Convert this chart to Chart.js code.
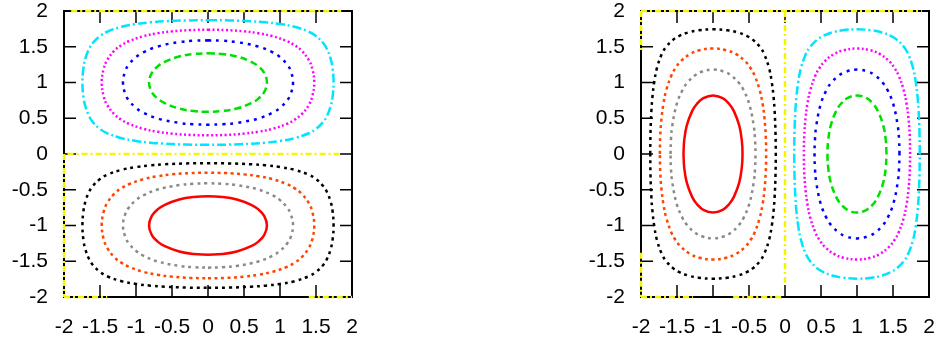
<!DOCTYPE html>
<html>
<head>
<meta charset="utf-8">
<script src="https://cdn.jsdelivr.net/npm/chart.js@4.4.0/dist/chart.umd.min.js"></script>
<style>
html, body { margin: 0; padding: 0; background: #fff; }
.panel { position: absolute; top: 0; width: 360px; height: 345px; }
</style>
</head>
<body>
<div class="panel" style="left:0"><canvas id="leftChart"></canvas></div>
<div class="panel" style="left:580px"><canvas id="rightChart"></canvas></div>
<script>
const tickValues = [-2, -1.5, -1, -0.5, 0, 0.5, 1, 1.5, 2];

// left panel: contour lines, [x, y]
const leftMinus08 = [[0,-1.41],[0.2,-1.399],[0.4,-1.364],[0.6,-1.29],[0.7,-1.225],[0.78,-1.134],[0.819,-1],[0.78,-0.866],[0.7,-0.775],[0.6,-0.71],[0.4,-0.636],[0.2,-0.601],[0,-0.59],[-0.2,-0.601],[-0.4,-0.636],[-0.6,-0.71],[-0.7,-0.775],[-0.78,-0.866],[-0.819,-1],[-0.78,-1.134],[-0.7,-1.225],[-0.6,-1.29],[-0.4,-1.364],[-0.2,-1.399],[0,-1.41]];
const leftMinus06 = [[0,-1.59],[0.2,-1.584],[0.4,-1.565],[0.7,-1.503],[0.9,-1.421],[1,-1.355],[1.1,-1.25],[1.15,-1.158],[1.181,-1],[1.15,-0.842],[1.1,-0.75],[1,-0.645],[0.9,-0.579],[0.7,-0.497],[0.4,-0.435],[0.2,-0.416],[0,-0.41],[-0.2,-0.416],[-0.4,-0.435],[-0.7,-0.497],[-0.9,-0.579],[-1,-0.645],[-1.1,-0.75],[-1.15,-0.842],[-1.181,-1],[-1.15,-1.158],[-1.1,-1.25],[-1,-1.355],[-0.9,-1.421],[-0.7,-1.503],[-0.4,-1.565],[-0.2,-1.584],[0,-1.59]];
const leftMinus04 = [[0,-1.738],[0.25,-1.733],[0.5,-1.715],[0.7,-1.689],[0.9,-1.647],[1.1,-1.577],[1.2,-1.523],[1.3,-1.445],[1.4,-1.314],[1.45,-1.188],[1.476,-1],[1.45,-0.812],[1.4,-0.686],[1.3,-0.555],[1.2,-0.477],[1.1,-0.423],[0.9,-0.353],[0.7,-0.311],[0.5,-0.285],[0.25,-0.267],[0,-0.262],[-0.25,-0.267],[-0.5,-0.285],[-0.7,-0.311],[-0.9,-0.353],[-1.1,-0.423],[-1.2,-0.477],[-1.3,-0.555],[-1.4,-0.686],[-1.45,-0.812],[-1.476,-1],[-1.45,-1.188],[-1.4,-1.314],[-1.3,-1.445],[-1.2,-1.523],[-1.1,-1.577],[-0.9,-1.647],[-0.7,-1.689],[-0.5,-1.715],[-0.25,-1.733],[0,-1.738]];
const leftMinus02 = [[0,-1.872],[0.3,-1.868],[0.6,-1.856],[0.8,-1.841],[1,-1.817],[1.2,-1.779],[1.4,-1.71],[1.5,-1.65],[1.6,-1.552],[1.65,-1.473],[1.7,-1.345],[1.73,-1.202],[1.744,-1],[1.73,-0.798],[1.7,-0.655],[1.65,-0.527],[1.6,-0.448],[1.5,-0.35],[1.4,-0.29],[1.2,-0.221],[1,-0.183],[0.8,-0.159],[0.6,-0.144],[0.3,-0.132],[0,-0.128],[-0.3,-0.132],[-0.6,-0.144],[-0.8,-0.159],[-1,-0.183],[-1.2,-0.221],[-1.4,-0.29],[-1.5,-0.35],[-1.6,-0.448],[-1.65,-0.527],[-1.7,-0.655],[-1.73,-0.798],[-1.744,-1],[-1.73,-1.202],[-1.7,-1.345],[-1.65,-1.473],[-1.6,-1.552],[-1.5,-1.65],[-1.4,-1.71],[-1.2,-1.779],[-1,-1.817],[-0.8,-1.841],[-0.6,-1.856],[-0.3,-1.868],[0,-1.872]];
const leftPlus02 = [[0,1.872],[0.3,1.868],[0.6,1.856],[0.8,1.841],[1,1.817],[1.2,1.779],[1.4,1.71],[1.5,1.65],[1.6,1.552],[1.65,1.473],[1.7,1.345],[1.73,1.202],[1.744,1],[1.73,0.798],[1.7,0.655],[1.65,0.527],[1.6,0.448],[1.5,0.35],[1.4,0.29],[1.2,0.221],[1,0.183],[0.8,0.159],[0.6,0.144],[0.3,0.132],[0,0.128],[-0.3,0.132],[-0.6,0.144],[-0.8,0.159],[-1,0.183],[-1.2,0.221],[-1.4,0.29],[-1.5,0.35],[-1.6,0.448],[-1.65,0.527],[-1.7,0.655],[-1.73,0.798],[-1.744,1],[-1.73,1.202],[-1.7,1.345],[-1.65,1.473],[-1.6,1.552],[-1.5,1.65],[-1.4,1.71],[-1.2,1.779],[-1,1.817],[-0.8,1.841],[-0.6,1.856],[-0.3,1.868],[0,1.872]];
const leftPlus04 = [[0,1.738],[0.25,1.733],[0.5,1.715],[0.7,1.689],[0.9,1.647],[1.1,1.577],[1.2,1.523],[1.3,1.445],[1.4,1.314],[1.45,1.188],[1.476,1],[1.45,0.812],[1.4,0.686],[1.3,0.555],[1.2,0.477],[1.1,0.423],[0.9,0.353],[0.7,0.311],[0.5,0.285],[0.25,0.267],[0,0.262],[-0.25,0.267],[-0.5,0.285],[-0.7,0.311],[-0.9,0.353],[-1.1,0.423],[-1.2,0.477],[-1.3,0.555],[-1.4,0.686],[-1.45,0.812],[-1.476,1],[-1.45,1.188],[-1.4,1.314],[-1.3,1.445],[-1.2,1.523],[-1.1,1.577],[-0.9,1.647],[-0.7,1.689],[-0.5,1.715],[-0.25,1.733],[0,1.738]];
const leftPlus06 = [[0,1.59],[0.2,1.584],[0.4,1.565],[0.7,1.503],[0.9,1.421],[1,1.355],[1.1,1.25],[1.15,1.158],[1.181,1],[1.15,0.842],[1.1,0.75],[1,0.645],[0.9,0.579],[0.7,0.497],[0.4,0.435],[0.2,0.416],[0,0.41],[-0.2,0.416],[-0.4,0.435],[-0.7,0.497],[-0.9,0.579],[-1,0.645],[-1.1,0.75],[-1.15,0.842],[-1.181,1],[-1.15,1.158],[-1.1,1.25],[-1,1.355],[-0.9,1.421],[-0.7,1.503],[-0.4,1.565],[-0.2,1.584],[0,1.59]];
const leftPlus08 = [[0,1.41],[0.2,1.399],[0.4,1.364],[0.6,1.29],[0.7,1.225],[0.78,1.134],[0.819,1],[0.78,0.866],[0.7,0.775],[0.6,0.71],[0.4,0.636],[0.2,0.601],[0,0.59],[-0.2,0.601],[-0.4,0.636],[-0.6,0.71],[-0.7,0.775],[-0.78,0.866],[-0.819,1],[-0.78,1.134],[-0.7,1.225],[-0.6,1.29],[-0.4,1.364],[-0.2,1.399],[0,1.41]];
const leftZero = [
    [[-1.95,0],[1.82,0]],
    [[-2,0],[-2,-2]],
    [[-2,-2],[-1.4,-2]],
    [[1.4,-2],[2,-2]],
    [[-1.9,2],[1.85,2]]
];

// right panel
const rightMinus08 = [[-1.41,0],[-1.399,0.2],[-1.364,0.4],[-1.29,0.6],[-1.225,0.7],[-1.134,0.78],[-1,0.819],[-0.866,0.78],[-0.775,0.7],[-0.71,0.6],[-0.636,0.4],[-0.601,0.2],[-0.59,0],[-0.601,-0.2],[-0.636,-0.4],[-0.71,-0.6],[-0.775,-0.7],[-0.866,-0.78],[-1,-0.819],[-1.134,-0.78],[-1.225,-0.7],[-1.29,-0.6],[-1.364,-0.4],[-1.399,-0.2],[-1.41,0]];
const rightMinus06 = [[-1.59,0],[-1.584,0.2],[-1.565,0.4],[-1.503,0.7],[-1.421,0.9],[-1.355,1],[-1.25,1.1],[-1.158,1.15],[-1,1.181],[-0.842,1.15],[-0.75,1.1],[-0.645,1],[-0.579,0.9],[-0.497,0.7],[-0.435,0.4],[-0.416,0.2],[-0.41,0],[-0.416,-0.2],[-0.435,-0.4],[-0.497,-0.7],[-0.579,-0.9],[-0.645,-1],[-0.75,-1.1],[-0.842,-1.15],[-1,-1.181],[-1.158,-1.15],[-1.25,-1.1],[-1.355,-1],[-1.421,-0.9],[-1.503,-0.7],[-1.565,-0.4],[-1.584,-0.2],[-1.59,0]];
const rightMinus04 = [[-1.738,0],[-1.733,0.25],[-1.715,0.5],[-1.689,0.7],[-1.647,0.9],[-1.577,1.1],[-1.523,1.2],[-1.445,1.3],[-1.314,1.4],[-1.188,1.45],[-1,1.476],[-0.812,1.45],[-0.686,1.4],[-0.555,1.3],[-0.477,1.2],[-0.423,1.1],[-0.353,0.9],[-0.311,0.7],[-0.285,0.5],[-0.267,0.25],[-0.262,0],[-0.267,-0.25],[-0.285,-0.5],[-0.311,-0.7],[-0.353,-0.9],[-0.423,-1.1],[-0.477,-1.2],[-0.555,-1.3],[-0.686,-1.4],[-0.812,-1.45],[-1,-1.476],[-1.188,-1.45],[-1.314,-1.4],[-1.445,-1.3],[-1.523,-1.2],[-1.577,-1.1],[-1.647,-0.9],[-1.689,-0.7],[-1.715,-0.5],[-1.733,-0.25],[-1.738,0]];
const rightMinus02 = [[-1.872,0],[-1.868,0.3],[-1.856,0.6],[-1.841,0.8],[-1.817,1],[-1.779,1.2],[-1.71,1.4],[-1.65,1.5],[-1.552,1.6],[-1.473,1.65],[-1.345,1.7],[-1.202,1.73],[-1,1.744],[-0.798,1.73],[-0.655,1.7],[-0.527,1.65],[-0.448,1.6],[-0.35,1.5],[-0.29,1.4],[-0.221,1.2],[-0.183,1],[-0.159,0.8],[-0.144,0.6],[-0.132,0.3],[-0.128,0],[-0.132,-0.3],[-0.144,-0.6],[-0.159,-0.8],[-0.183,-1],[-0.221,-1.2],[-0.29,-1.4],[-0.35,-1.5],[-0.448,-1.6],[-0.527,-1.65],[-0.655,-1.7],[-0.798,-1.73],[-1,-1.744],[-1.202,-1.73],[-1.345,-1.7],[-1.473,-1.65],[-1.552,-1.6],[-1.65,-1.5],[-1.71,-1.4],[-1.779,-1.2],[-1.817,-1],[-1.841,-0.8],[-1.856,-0.6],[-1.868,-0.3],[-1.872,0]];
const rightPlus02 = [[1.872,0],[1.868,0.3],[1.856,0.6],[1.841,0.8],[1.817,1],[1.779,1.2],[1.71,1.4],[1.65,1.5],[1.552,1.6],[1.473,1.65],[1.345,1.7],[1.202,1.73],[1,1.744],[0.798,1.73],[0.655,1.7],[0.527,1.65],[0.448,1.6],[0.35,1.5],[0.29,1.4],[0.221,1.2],[0.183,1],[0.159,0.8],[0.144,0.6],[0.132,0.3],[0.128,0],[0.132,-0.3],[0.144,-0.6],[0.159,-0.8],[0.183,-1],[0.221,-1.2],[0.29,-1.4],[0.35,-1.5],[0.448,-1.6],[0.527,-1.65],[0.655,-1.7],[0.798,-1.73],[1,-1.744],[1.202,-1.73],[1.345,-1.7],[1.473,-1.65],[1.552,-1.6],[1.65,-1.5],[1.71,-1.4],[1.779,-1.2],[1.817,-1],[1.841,-0.8],[1.856,-0.6],[1.868,-0.3],[1.872,0]];
const rightPlus04 = [[1.738,0],[1.733,0.25],[1.715,0.5],[1.689,0.7],[1.647,0.9],[1.577,1.1],[1.523,1.2],[1.445,1.3],[1.314,1.4],[1.188,1.45],[1,1.476],[0.812,1.45],[0.686,1.4],[0.555,1.3],[0.477,1.2],[0.423,1.1],[0.353,0.9],[0.311,0.7],[0.285,0.5],[0.267,0.25],[0.262,0],[0.267,-0.25],[0.285,-0.5],[0.311,-0.7],[0.353,-0.9],[0.423,-1.1],[0.477,-1.2],[0.555,-1.3],[0.686,-1.4],[0.812,-1.45],[1,-1.476],[1.188,-1.45],[1.314,-1.4],[1.445,-1.3],[1.523,-1.2],[1.577,-1.1],[1.647,-0.9],[1.689,-0.7],[1.715,-0.5],[1.733,-0.25],[1.738,0]];
const rightPlus06 = [[1.59,0],[1.584,0.2],[1.565,0.4],[1.503,0.7],[1.421,0.9],[1.355,1],[1.25,1.1],[1.158,1.15],[1,1.181],[0.842,1.15],[0.75,1.1],[0.645,1],[0.579,0.9],[0.497,0.7],[0.435,0.4],[0.416,0.2],[0.41,0],[0.416,-0.2],[0.435,-0.4],[0.497,-0.7],[0.579,-0.9],[0.645,-1],[0.75,-1.1],[0.842,-1.15],[1,-1.181],[1.158,-1.15],[1.25,-1.1],[1.355,-1],[1.421,-0.9],[1.503,-0.7],[1.565,-0.4],[1.584,-0.2],[1.59,0]];
const rightPlus08 = [[1.41,0],[1.399,0.2],[1.364,0.4],[1.29,0.6],[1.225,0.7],[1.134,0.78],[1,0.819],[0.866,0.78],[0.775,0.7],[0.71,0.6],[0.636,0.4],[0.601,0.2],[0.59,0],[0.601,-0.2],[0.636,-0.4],[0.71,-0.6],[0.775,-0.7],[0.866,-0.78],[1,-0.819],[1.134,-0.78],[1.225,-0.7],[1.29,-0.6],[1.364,-0.4],[1.399,-0.2],[1.41,0]];
const rightZero = [
    [[0,2],[0,-1.8]],
    [[-2,2],[-2,1.45]],
    [[-2,-1.38],[-2,-2]],
    [[-2,-2],[-1.28,-2]],
    [[-0.72,-2],[-0.04,-2]],
    [[-2,2],[1.9,2]]
];

// gnuplot-ish line types, in the same order as the contour lists below
const lineStyles = [
    { color: '#ff0000', dash: [] },          // -0.8
    { color: '#8a8a8a', dash: [3, 4] },      // -0.6
    { color: '#ff4500', dash: [3, 3.5] },    // -0.4
    { color: '#000000', dash: [3, 4] },      // -0.2
    { color: '#00e5ff', dash: [9, 3, 2, 3] },// 0.2
    { color: '#ff00ff', dash: [2, 2.5] },    // 0.4
    { color: '#0000ff', dash: [3, 5] },      // 0.6
    { color: '#00e000', dash: [7, 4] }       // 0.8
];
const zeroStyle = { color: '#f5f500', dash: [6, 3, 2, 3] };

const tickFont = { family: "'Liberation Sans', Arial, sans-serif", size: 21 };

const gnuplotFrame = {
    id: 'gnuplotFrame',
    beforeDatasetsDraw(chart) {
        const { ctx, chartArea: a, scales: { x, y } } = chart;
        ctx.save();
        ctx.strokeStyle = '#000';
        ctx.lineWidth = 1.5;
        ctx.beginPath();
        tickValues.forEach(v => {
            const px = x.getPixelForValue(v);
            ctx.moveTo(px, a.bottom); ctx.lineTo(px, a.bottom - 12);
            ctx.moveTo(px, a.top); ctx.lineTo(px, a.top + 12);
            const py = y.getPixelForValue(v);
            ctx.moveTo(a.left, py); ctx.lineTo(a.left + 12, py);
            ctx.moveTo(a.right, py); ctx.lineTo(a.right - 12, py);
        });
        ctx.stroke();
        ctx.lineWidth = 2;
        ctx.strokeRect(a.left, a.top, a.right - a.left, a.bottom - a.top);
        ctx.restore();
    }
};

function contourSet(lines, style, tension) {
    return {
        data: lines.map(([x, y]) => ({ x, y })),
        showLine: true,
        borderColor: style.color,
        borderDash: style.dash,
        borderWidth: 2.5,
        pointRadius: 0,
        tension: tension,
        clip: false
    };
}

function makeChart(id, contours, zeroLines, axisWidth, padRight) {
    const datasets = contours.map((c, i) => contourSet(c, lineStyles[i], 0.4));
    zeroLines.forEach(seg => datasets.push(contourSet(seg, zeroStyle, 0)));
    new Chart(document.getElementById(id), {
        type: 'scatter',
        data: { datasets },
        options: {
            responsive: true,
            maintainAspectRatio: false,
            animation: false,
            events: [],
            layout: { padding: { left: 0, right: padRight, top: 11, bottom: 0 } },
            scales: {
                x: {
                    type: 'linear', min: -2, max: 2,
                    afterBuildTicks: s => { s.ticks = tickValues.map(v => ({ value: v })); },
                    afterFit: s => { s.height = 48; s.paddingLeft = 0; s.paddingRight = 0; },
                    ticks: { font: tickFont, color: '#000', padding: 18, maxRotation: 0, autoSkip: false, callback: v => String(v) },
                    grid: { display: false, drawTicks: false },
                    border: { display: false }
                },
                y: {
                    type: 'linear', min: -2, max: 2,
                    afterBuildTicks: s => { s.ticks = tickValues.map(v => ({ value: v })); },
                    afterFit: s => { s.width = axisWidth; s.paddingTop = 0; s.paddingBottom = 0; },
                    ticks: { font: tickFont, color: '#000', padding: 16, autoSkip: false, callback: v => String(v) },
                    grid: { display: false, drawTicks: false },
                    border: { display: false }
                }
            },
            plugins: { legend: { display: false }, tooltip: { enabled: false } }
        },
        plugins: [gnuplotFrame]
    });
}

makeChart('leftChart',
    [leftMinus08, leftMinus06, leftMinus04, leftMinus02, leftPlus02, leftPlus04, leftPlus06, leftPlus08],
    leftZero, 64, 8);
makeChart('rightChart',
    [rightMinus08, rightMinus06, rightMinus04, rightMinus02, rightPlus02, rightPlus04, rightPlus06, rightPlus08],
    rightZero, 61, 11);
</script>
</body>
</html>
